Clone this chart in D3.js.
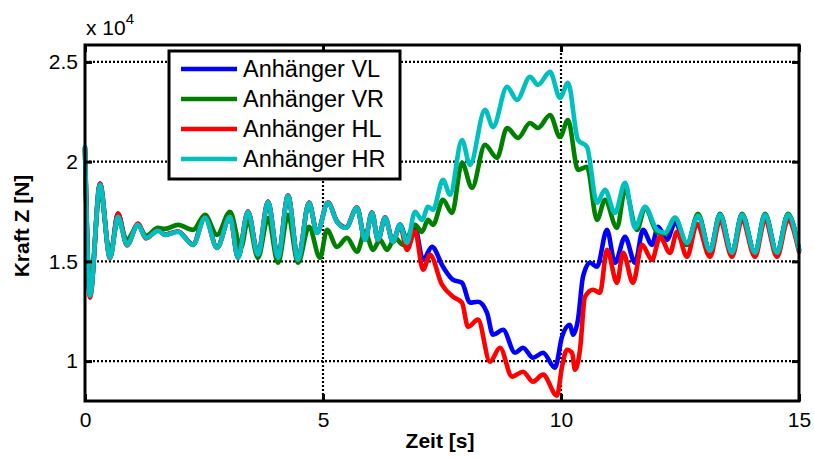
<!DOCTYPE html>
<html>
<head>
<meta charset="utf-8">
<script src="https://cdn.jsdelivr.net/npm/d3@7"></script>
<style>
  body { margin: 0; background: #fff; }
  text { font-family: "Liberation Sans", Arial, sans-serif; fill: #000; }
</style>
</head>
<body>
<svg id="chart" width="814" height="459"></svg>
<script>
// Vertical wheel forces of the trailer (time in s, force in N)
const xTicks = [0, 5, 10, 15];
const yTicks = [10000, 15000, 20000, 25000];
const seriesNames = ["Anhänger VL", "Anhänger VR", "Anhänger HL", "Anhänger HR"];
const seriesColors = ["#0000ff", "#008000", "#ff0000", "#00bfbf"];

const vlData = [
  [0, 20700], [0.105, 13300], [0.315, 18900], [0.525, 15200], [0.693, 17400], [0.882, 15850],
  [1.113, 16850], [1.282, 16200], [1.534, 16550], [1.681, 16350], [1.954, 16500], [2.269, 15850],
  [2.521, 17300], [2.773, 15700], [3.046, 17250], [3.214, 15200], [3.424, 17500], [3.634, 15350],
  [3.845, 18000], [4.055, 15200], [4.265, 18300], [4.475, 15100], [4.706, 17950], [4.874, 16450],
  [5.105, 17950], [5.294, 17000], [5.483, 16700], [5.714, 17700], [5.882, 16100], [6.029, 17450],
  [6.155, 16080], [6.303, 17200], [6.471, 16000], [6.618, 16850], [6.765, 16080], [6.933, 16680],
  [7.101, 15080], [7.290, 15730], [7.521, 14730], [7.731, 14080], [7.920, 13930], [8.088, 12930],
  [8.256, 12980], [8.445, 12430], [8.571, 11320], [8.782, 11570], [9.034, 10420], [9.202, 10670],
  [9.412, 10170], [9.622, 10420], [9.874, 9670], [10.021, 11220], [10.189, 11820], [10.252, 11320],
  [10.357, 12080], [10.462, 14230], [10.609, 14930], [10.756, 14730], [10.966, 16580], [11.134, 14930],
  [11.345, 16230], [11.555, 14930], [11.723, 16580], [11.912, 15830], [12.038, 16730], [12.227, 16080],
  [12.395, 16930], [12.647, 15830], [12.878, 17300], [13.130, 15530], [13.340, 17350], [13.592, 15430],
  [13.803, 17350], [14.076, 15430], [14.286, 17350], [14.538, 15430], [14.769, 17350], [15.0, 15580]
];

const vrData = [
  [0, 20590], [0.105, 13480], [0.315, 18590], [0.525, 15330], [0.693, 17080], [0.882, 16080],
  [1.113, 16830], [1.282, 16280], [1.534, 16680], [1.681, 16630], [1.954, 16830], [2.269, 16580],
  [2.521, 17330], [2.773, 16330], [3.046, 17490], [3.277, 15680], [3.424, 17080], [3.634, 15180],
  [3.845, 17180], [4.055, 14930], [4.265, 17330], [4.475, 14930], [4.706, 16730], [4.937, 15180],
  [5.084, 16580], [5.294, 15730], [5.504, 16180], [5.714, 15480], [5.882, 16480], [6.050, 15580],
  [6.197, 16080], [6.345, 15580], [6.513, 16180], [6.681, 15830], [6.933, 16830], [7.080, 16480],
  [7.206, 17080], [7.311, 16830], [7.521, 18090], [7.710, 17430], [7.920, 19940], [8.130, 18690],
  [8.403, 20840], [8.655, 20190], [8.866, 21690], [9.097, 21190], [9.349, 21940], [9.517, 21690],
  [9.769, 22340], [9.979, 21240], [10.147, 22090], [10.357, 19590], [10.546, 19740], [10.756, 17080],
  [10.924, 18090], [11.176, 16680], [11.345, 18590], [11.597, 16580], [11.765, 17690], [12.017, 16480],
  [12.185, 16380], [12.395, 17180], [12.647, 15830], [12.878, 17390], [13.130, 15480], [13.340, 17390],
  [13.592, 15380], [13.803, 17390], [14.076, 15380], [14.286, 17390], [14.538, 15380], [14.769, 17390],
  [15.0, 15580]
];

const hlData = [
  [0, 20700], [0.105, 13180], [0.315, 18890], [0.525, 15150], [0.693, 17400], [0.882, 15800],
  [1.113, 16900], [1.282, 16150], [1.534, 16550], [1.681, 16330], [1.954, 16500], [2.269, 15830],
  [2.521, 17200], [2.773, 15680], [3.046, 17250], [3.214, 15180], [3.424, 17500], [3.634, 15330],
  [3.845, 18000], [4.055, 15180], [4.265, 18300], [4.475, 15080], [4.706, 17950], [4.874, 16450],
  [5.105, 17950], [5.294, 17000], [5.483, 16700], [5.714, 17700], [5.882, 16080], [6.029, 17450],
  [6.155, 16050], [6.303, 17200], [6.471, 15980], [6.618, 16780], [6.765, 15580], [6.933, 16530],
  [7.101, 14580], [7.248, 15330], [7.500, 13830], [7.731, 13230], [7.920, 12930], [8.046, 11720],
  [8.256, 12080], [8.508, 9970], [8.718, 10670], [8.971, 9220], [9.202, 9470], [9.412, 8970],
  [9.622, 9320], [9.916, 8270], [10.021, 9720], [10.126, 10570], [10.231, 10420], [10.294, 9570],
  [10.399, 10570], [10.504, 13230], [10.672, 13580], [10.819, 13430], [10.966, 15580], [11.176, 13930],
  [11.303, 15430], [11.513, 13930], [11.702, 15830], [11.912, 15080], [12.080, 16230], [12.290, 15430],
  [12.437, 16480], [12.647, 15230], [12.857, 16880], [13.130, 15230], [13.340, 17030], [13.592, 15230],
  [13.803, 17080], [14.076, 15230], [14.286, 17080], [14.538, 15230], [14.769, 17080], [15.0, 15480]
];

const hrData = [
  [0, 20740], [0.105, 13280], [0.315, 18840], [0.525, 15180], [0.693, 17230], [0.882, 15830],
  [1.113, 16830], [1.282, 16180], [1.534, 16530], [1.681, 16330], [1.954, 16480], [2.269, 15830],
  [2.521, 17180], [2.773, 15680], [3.046, 17230], [3.214, 15180], [3.424, 17490], [3.634, 15330],
  [3.845, 17990], [4.055, 15180], [4.265, 18290], [4.475, 15080], [4.706, 17940], [4.874, 16430],
  [5.105, 17940], [5.294, 16980], [5.483, 16680], [5.714, 17690], [5.882, 16080], [6.029, 17440],
  [6.155, 16080], [6.303, 17180], [6.471, 15980], [6.618, 16830], [6.765, 15930], [6.933, 17490],
  [7.080, 17080], [7.206, 17740], [7.311, 17590], [7.521, 19090], [7.668, 18340], [7.920, 21090],
  [8.088, 19840], [8.403, 22600], [8.571, 21740], [8.866, 23750], [9.076, 23100], [9.349, 24250],
  [9.517, 23850], [9.769, 24500], [9.979, 23200], [10.147, 23950], [10.357, 21090], [10.546, 20740],
  [10.756, 17940], [10.924, 18590], [11.134, 17430], [11.345, 18940], [11.555, 16680], [11.765, 17740],
  [12.017, 16580], [12.185, 16430], [12.395, 17180], [12.647, 15930], [12.878, 17280], [13.130, 15530],
  [13.340, 17330], [13.592, 15430], [13.803, 17330], [14.076, 15430], [14.286, 17330], [14.538, 15430],
  [14.769, 17330], [15.0, 15580]
];

const allSeries = [vlData, vrData, hlData, hrData];

const svg = d3.select("#chart");
const plotLeft = 85, plotRight = 799, plotTop = 45, plotBottom = 401;

const x = d3.scaleLinear().domain([0, 15]).range([plotLeft, plotRight]);
const y = d3.scaleLinear().domain([8000, 25850]).range([plotBottom, plotTop]);

// dotted grid
const grid = svg.append("g").attr("stroke", "#000").attr("stroke-width", 2.2).attr("stroke-dasharray", "2,2");
grid.selectAll("line.gx").data(xTicks.filter(d => d > 0 && d < 15)).join("line")
  .attr("x1", d => x(d)).attr("x2", d => x(d)).attr("y1", plotTop).attr("y2", plotBottom);
grid.selectAll("line.gy").data(yTicks).join("line")
  .attr("x1", plotLeft).attr("x2", plotRight).attr("y1", d => y(d)).attr("y2", d => y(d));

// data lines
const line = d3.line().x(d => x(d[0])).y(d => y(d[1])).curve(d3.curveMonotoneX);
svg.append("g").selectAll("path").data(allSeries).join("path")
  .attr("d", line)
  .attr("fill", "none")
  .attr("stroke", (d, i) => seriesColors[i])
  .attr("stroke-width", 4.6)
  .attr("stroke-linejoin", "round")
  .attr("stroke-linecap", "round");

// axes with inward ticks
const fmt = d => d3.format("~g")(d / 10000);
const styleAxis = g => {
  g.select(".domain").remove();
  g.selectAll(".tick line").attr("stroke", "#000").attr("stroke-width", 3);
  g.selectAll(".tick text").attr("font-size", 21).attr("fill", "#000");
};
svg.append("g").attr("transform", `translate(0,${plotBottom})`)
  .call(d3.axisBottom(x).tickValues(xTicks).tickSize(-7).tickPadding(11).tickFormat(d3.format("d")))
  .call(styleAxis);
svg.append("g").attr("transform", `translate(0,${plotTop})`)
  .call(d3.axisTop(x).tickValues(xTicks).tickSize(-7).tickFormat(""))
  .call(styleAxis);
svg.append("g").attr("transform", `translate(${plotLeft},0)`)
  .call(d3.axisLeft(y).tickValues(yTicks).tickSize(-7).tickPadding(7).tickFormat(fmt))
  .call(styleAxis);
svg.append("g").attr("transform", `translate(${plotRight},0)`)
  .call(d3.axisRight(y).tickValues(yTicks).tickSize(-7).tickFormat(""))
  .call(styleAxis);

// frame
svg.append("rect").attr("x", plotLeft).attr("y", plotTop)
  .attr("width", plotRight - plotLeft).attr("height", plotBottom - plotTop)
  .attr("fill", "none").attr("stroke", "#000").attr("stroke-width", 3);

// exponent label
const expo = svg.append("text").attr("x", 86).attr("y", 35).attr("font-size", 21);
expo.append("tspan").text("x 10");
expo.append("tspan").attr("font-size", 15).attr("dy", -11).text("4");

// axis titles
svg.append("text").attr("x", (plotLeft + plotRight) / 2 - 2).attr("y", 448)
  .attr("text-anchor", "middle").attr("font-size", 21).attr("font-weight", "bold").text("Zeit [s]");
svg.append("text").attr("transform", "translate(29,226) rotate(-90)")
  .attr("text-anchor", "middle").attr("font-size", 21).attr("font-weight", "bold").text("Kraft Z [N]");

// legend
const lg = svg.append("g");
lg.append("rect").attr("x", 169).attr("y", 51).attr("width", 231).attr("height", 128)
  .attr("fill", "#fff").attr("stroke", "#000").attr("stroke-width", 3);
const rows = lg.selectAll("g.row").data(seriesNames).join("g")
  .attr("transform", (d, i) => `translate(0,${69 + i * 30})`);
rows.append("line").attr("x1", 181).attr("x2", 237).attr("y1", 0).attr("y2", 0)
  .attr("stroke", (d, i) => seriesColors[i]).attr("stroke-width", 4.6);
rows.append("text").attr("x", 243).attr("y", 0).attr("dy", "0.36em").attr("font-size", 23.5).text(d => d);
</script>
</body>
</html>
